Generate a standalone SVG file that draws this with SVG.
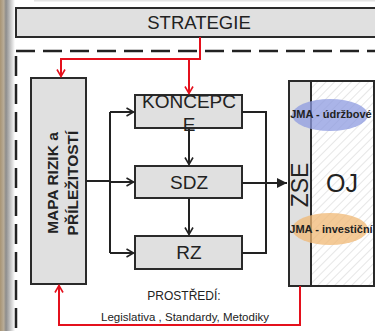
<svg xmlns="http://www.w3.org/2000/svg" width="375" height="331" viewBox="0 0 375 331">
<defs>
<linearGradient id="edge" x1="0" y1="0" x2="1" y2="0">
<stop offset="0" stop-color="#a89474"/>
<stop offset="0.25" stop-color="#b8ac98"/>
<stop offset="0.4" stop-color="#8c8c8c"/>
<stop offset="1" stop-color="#ffffff"/>
</linearGradient>
<pattern id="hatch" width="6" height="6" patternUnits="userSpaceOnUse" patternTransform="rotate(45)">
<rect width="6" height="6" fill="#ffffff"/>
<line x1="0" y1="0" x2="0" y2="6" stroke="#d6d6d6" stroke-width="1.2"/>
</pattern>
<marker id="ab" markerWidth="10" markerHeight="10" refX="8" refY="5" orient="auto" markerUnits="userSpaceOnUse">
<path d="M1,1 L8,5 L1,9" fill="none" stroke="#222" stroke-width="1.6"/>
</marker>
<marker id="abig" markerWidth="12" markerHeight="12" refX="10" refY="6" orient="auto" markerUnits="userSpaceOnUse">
<path d="M0,1 L10,6 L0,11 Z" fill="#222"/>
</marker>
<marker id="ar" markerWidth="10" markerHeight="10" refX="8" refY="5" orient="auto" markerUnits="userSpaceOnUse">
<path d="M1,1 L8,5 L1,9" fill="none" stroke="#e4101c" stroke-width="1.6"/>
</marker>
</defs>
<style>
.box{fill:#e0e0e0;stroke:#2a2a2a;stroke-width:2}
.t{font-family:"Liberation Sans",Arial,sans-serif;fill:#222}
.blk{fill:none;stroke:#222;stroke-width:2}
.red{fill:none;stroke:#e4101c;stroke-width:2}
</style>
<rect width="375" height="331" fill="#ffffff"/>
<rect x="0" y="0" width="15" height="331" fill="url(#edge)"/>
<rect x="34" y="0" width="341" height="1.5" fill="#e4e4e4"/>

<g id="strategie">
<rect class="box" x="16" y="8" width="362" height="29"/>
<text class="t" x="199" y="29" font-size="18.5" text-anchor="middle">STRATEGIE</text>
</g>

<g id="boundary">
<path d="M16,51 H375" fill="none" stroke="#222" stroke-width="2.5" stroke-dasharray="19,8"/>
<path d="M16,56 V331" fill="none" stroke="#222" stroke-width="2.5" stroke-dasharray="20,8"/>
</g>

<g id="mapa">
<rect class="box" x="31" y="78" width="55" height="206"/>
<text class="t" font-size="15.5" font-weight="bold" text-anchor="middle" transform="translate(58,183) rotate(-90)">MAPA RIZIK a</text>
<text class="t" font-size="15.5" font-weight="bold" text-anchor="middle" transform="translate(78,183) rotate(-90)">PŘÍLEŽITOSTÍ</text>
</g>

<g id="koncepce">
<rect class="box" x="135" y="95" width="107" height="33"/>
<text class="t" x="189" y="108" font-size="19" text-anchor="middle">KONCEPC</text>
<text class="t" x="189" y="131" font-size="19" text-anchor="middle">E</text>
</g>

<g id="sdz">
<rect class="box" x="135" y="166" width="107" height="32"/>
<text class="t" x="189" y="189" font-size="19" text-anchor="middle">SDZ</text>
</g>

<g id="rz">
<rect class="box" x="135" y="236" width="107" height="33"/>
<text class="t" x="189" y="259" font-size="19" text-anchor="middle">RZ</text>
</g>

<g id="zse-oj">
<rect x="311" y="81" width="63" height="205" fill="url(#hatch)"/>
<rect x="289" y="81" width="22" height="205" fill="#e0e0e0"/>
<rect x="289" y="81" width="85" height="205" fill="none" stroke="#2a2a2a" stroke-width="2"/>
<line x1="311" y1="81" x2="311" y2="286" stroke="#2a2a2a" stroke-width="2"/>
<ellipse cx="330" cy="115" rx="38" ry="16" fill="#8d9be0" fill-opacity="0.75"/>
<ellipse cx="330" cy="229" rx="38" ry="16" fill="#f0b874" fill-opacity="0.75"/>
<text class="t" font-size="23" text-anchor="middle" transform="translate(308,185) rotate(-90)">ZSE</text>
<text class="t" x="342" y="192" font-size="25" text-anchor="middle">OJ</text>
<text class="t" x="331" y="118" font-size="11" font-weight="bold" text-anchor="middle">JMA - údržbové</text>
<text class="t" x="331" y="233" font-size="11" font-weight="bold" text-anchor="middle">JMA - investiční</text>
</g>

<g id="connectors">
<path class="red" d="M200,37 V59 H61 V76.5" marker-end="url(#ar)"/>
<path class="red" d="M189,59 V93.5" marker-end="url(#ar)"/>
<path class="red" d="M300,286 V325 H59 V285.5" marker-end="url(#ar)"/>
<path class="blk" d="M86,181 H110"/>
<path class="blk" d="M110,112 V253"/>
<path class="blk" d="M110,112 H133.5" marker-end="url(#ab)"/>
<path class="blk" d="M110,182 H133.5" marker-end="url(#ab)"/>
<path class="blk" d="M110,253 H133.5" marker-end="url(#ab)"/>
<path class="blk" d="M189,128 V164.5" marker-end="url(#ab)"/>
<path class="blk" d="M189,198 V234.5" marker-end="url(#ab)"/>
<path class="blk" d="M242,112 H266 V253 H242"/>
<path class="blk" d="M242,183 H287" marker-end="url(#abig)"/>
</g>

<g id="labels">
<text class="t" x="184" y="300" font-size="12" text-anchor="middle" fill="#333">PROSTŘEDÍ:</text>
<text class="t" x="185" y="321" font-size="11.5" text-anchor="middle" fill="#333">Legislativa , Standardy, Metodiky</text>
</g>
</svg>
